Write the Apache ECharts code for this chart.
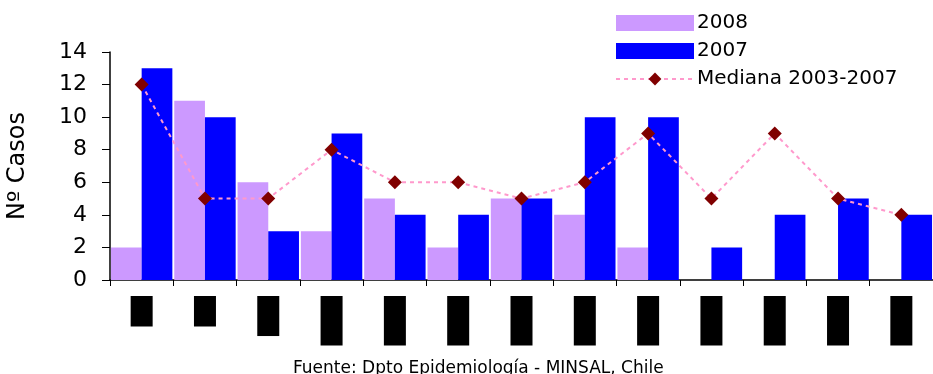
<!DOCTYPE html>
<html><head><meta charset="utf-8">
<script src="https://cdn.jsdelivr.net/npm/echarts@6/dist/echarts.min.js"></script>
<style>html,body{margin:0;padding:0;background:#fff}#c{width:933px;height:374px}</style>
</head><body><div id="c"></div>
<script>
const categories = ["1-4","5-8","9-12","13-16","17-20","21-24","25-28","29-32","33-36","37-40","41-44","45-48","49-52"];
const s2008 = [2,11,6,3,5,2,5,4,2,null,null,null,null];
const s2007 = [13,10,3,9,4,4,5,10,10,2,4,5,4];
const mediana = [12,5,5,8,6,6,5,6,9,5,9,5,4];
const yTicks = [0,2,4,6,8,10,12,14];

const chart = echarts.init(document.getElementById('c'));
const F = 'DejaVu Sans, Verdana, sans-serif';
chart.setOption({
  animation:false,
  textStyle:{fontFamily:F},
  grid:{left:110,right:0,top:52,bottom:94,containLabel:false,outerBoundsMode:'none'},
  legend:{
    orient:'vertical', left:610, top:8, itemWidth:78, itemHeight:16, itemGap:8,
    textStyle:{fontSize:20,color:'#000',fontFamily:F,padding:[0,0,0,-2]},
    data:[{name:'2008',icon:'rect'},{name:'2007',icon:'rect'},{name:'Mediana 2003-2007'}]
  },
  xAxis:{
    type:'category', data:categories,
    axisLine:{lineStyle:{color:'#000',width:1.5}},
    axisTick:{show:true,length:6,lineStyle:{color:'#000'}},
    axisLabel:{rotate:90,margin:16,fontSize:15,color:'#000',backgroundColor:'#000',padding:[3,3],lineHeight:16,fontFamily:F}
  },
  yAxis:{
    type:'value', min:0, max:14, interval:2,
    name:'Nº Casos', nameLocation:'middle', nameGap:80, nameRotate:90,
    nameTextStyle:{fontSize:24,color:'#000',fontFamily:F},
    axisLine:{show:true,lineStyle:{color:'#000',width:1.5}},
    axisTick:{show:true,length:8,lineStyle:{color:'#000'}},
    axisLabel:{fontSize:22,color:'#000',margin:23,fontFamily:F,
      formatter:v=>yTicks.includes(v)?String(v):''},
    splitLine:{show:false}
  },
  series:[
    {name:'2008',type:'bar',data:s2008,barGap:'0%',barCategoryGap:'3%',itemStyle:{color:'#CC99FF'}},
    {name:'2007',type:'bar',data:s2007,itemStyle:{color:'#0000FF'}},
    {name:'Mediana 2003-2007',type:'line',data:mediana,symbol:'diamond',symbolSize:14,
      itemStyle:{color:'#800000'},lineStyle:{color:'#FF99CC',width:2,type:[4,4]},z:5}
  ],
  graphic:[{type:'text',left:293,top:360,style:{text:'Fuente: Dpto Epidemiología - MINSAL, Chile',fontSize:17,fill:'#000',fontFamily:F}}]
});
</script></body></html>
